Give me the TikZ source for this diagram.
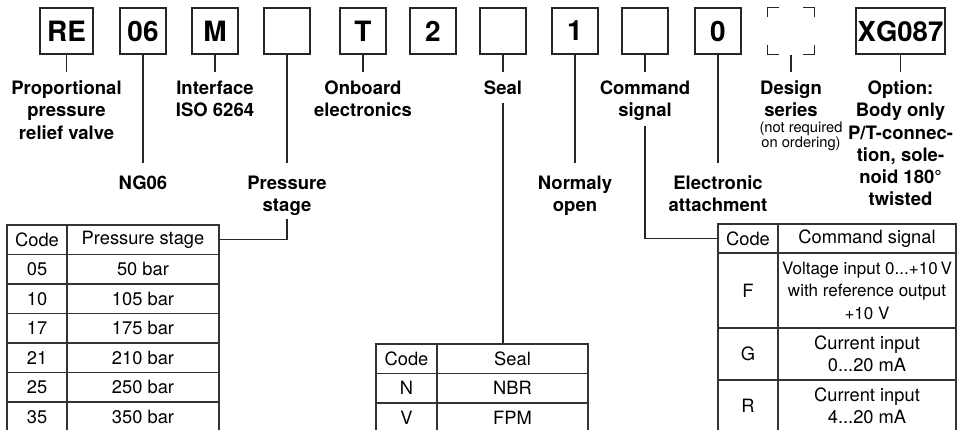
\documentclass[tikz,border=0pt]{standalone}
\usepackage{fontspec}
\setmainfont{TeX Gyre Heros}
\begin{document}
\begin{tikzpicture}[x=1pt,y=-1pt,
  codebox/.style={draw=black!85, line width=1.3pt, minimum width=46pt, minimum height=46pt, inner sep=0pt, font=\bfseries\fontsize{28}{28}\selectfont},
  lbl/.style={align=center, inner xsep=0pt, inner ysep=8.5pt, anchor=north, font=\bfseries\fontsize{18.5}{22.3}\selectfont},
  lbllow/.style={lbl, inner ysep=12.5pt},
  small/.style={align=center, inner sep=0pt, anchor=north, font=\fontsize{14.7}{15}\selectfont},
  conn/.style={draw=black!85, line width=1.2pt},
  cell/.style={draw=black!80, line width=1.2pt, inner sep=0pt, align=center, font=\fontsize{18.3}{22.5}\selectfont}
]
\useasboundingbox (0,0) rectangle (957,429);

% code boxes
\node[codebox, minimum width=53pt] (bRE) at (66.5,31) {RE};
\node[codebox] (b06) at (143,31) {06};
\node[codebox] (bM) at (215,31) {M};
\node[codebox] (bPS) at (287,31) {};
\node[codebox] (bT) at (363,31) {T};
\node[codebox] (b2) at (433,31) {2};
\node[codebox] (bSeal) at (503,31) {};
\node[codebox] (b1) at (575,31) {1};
\node[codebox] (bCmd) at (645,31) {};
\node[codebox] (b0) at (718,31) {0};
\node[codebox, draw=none] (bDS) at (791,31) {};
\node[codebox, minimum width=89pt, font=\bfseries\fontsize{27.5}{27.5}\selectfont] (bXG) at (900.5,31) {XG087};

% dashed-corner box
\draw[conn] ([yshift=-10pt]bDS.north west) -- (bDS.north west) -- ([xshift=12pt]bDS.north west);
\draw[conn] ([yshift=-10pt]bDS.north east) -- (bDS.north east) -- ([xshift=-12pt]bDS.north east);
\draw[conn] ([yshift=10pt]bDS.south west) -- (bDS.south west) -- ([xshift=12pt]bDS.south west);
\draw[conn] ([yshift=10pt]bDS.south east) -- (bDS.south east) -- ([xshift=-12pt]bDS.south east);

% labels
\node[lbl] (lRE) at (66.5,72) {Proportional\\pressure\\relief valve};
\node[lbllow] (l06) at (143,163) {NG06};
\node[lbl] (lM) at (215,72) {Interface\\ISO 6264};
\node[lbllow] (lPS) at (287,163) {Pressure\\stage};
\node[lbl] (lT) at (363,72) {Onboard\\electronics};
\node[lbl] (lSeal) at (503,72) {Seal};
\node[lbllow] (l1) at (575,163) {Normaly\\open};
\node[lbl] (lCmd) at (645,72) {Command\\signal};
\node[lbllow] (l0) at (718,163) {Electronic\\attachment};
\node[lbl] (lDS) at (791,72) {Design\\series};
\node[small] (lDSs) at (801,121.5) {(not required\\on ordering)};
\node[lbl] (lXG) at (900.5,72) {Option:\\Body only\\P/T-connec-\\tion, sole-\\noid 180°\\twisted};

% connectors box -> label
\draw[conn] (bRE.south) -- (lRE.north);
\draw[conn] (b06.south) -- (l06.north);
\draw[conn] (bM.south) -- (lM.north);
\draw[conn] (bPS.south) -- (lPS.north);
\draw[conn] (bT.south) -- (lT.north);
\draw[conn] (bSeal.south) -- (lSeal.north);
\draw[conn] (b1.south) -- (l1.north);
\draw[conn] (bCmd.south) -- (lCmd.north);
\draw[conn] (b0.south) -- (l0.north);
\draw[conn] (bDS.south) -- (lDS.north);
\draw[conn] (bXG.south) -- (lXG.north);

% pressure stage table
\node[cell, minimum width=60pt, minimum height=29.5pt] (p0a) at (37,239.75) {Code};
\node[cell, minimum width=152pt, minimum height=29.5pt] (p0b) at (143,239.75) {Pressure stage};
\foreach \i/\c/\v in {1/05/50 bar,2/10/105 bar,3/17/175 bar,4/21/210 bar,5/25/250 bar,6/35/350 bar}{
  \node[cell, minimum width=60pt, minimum height=29.5pt] (p\i a) at (37,239.75+29.5*\i) {\c};
  \node[cell, minimum width=152pt, minimum height=29.5pt] (p\i b) at (143,239.75+29.5*\i) {\v};
}

% seal table
\node[cell, minimum width=61pt, minimum height=29.5pt] (s0a) at (406.5,358.75) {Code};
\node[cell, minimum width=151pt, minimum height=29.5pt] (s0b) at (512.5,358.75) {Seal};
\node[cell, minimum width=61pt, minimum height=29.5pt] (s1a) at (406.5,388.25) {N};
\node[cell, minimum width=151pt, minimum height=29.5pt] (s1b) at (512.5,388.25) {NBR};
\node[cell, minimum width=61pt, minimum height=29.5pt] (s2a) at (406.5,417.75) {V};
\node[cell, minimum width=151pt, minimum height=29.5pt] (s2b) at (512.5,417.75) {FPM};

% command signal table
\node[cell, minimum width=60pt, minimum height=29pt] (c0a) at (748,238.5) {Code};
\node[cell, minimum width=178pt, minimum height=29pt] (c0b) at (867,238.5) {Command signal};
\node[cell, minimum width=60pt, minimum height=75pt] (c1a) at (748,290.5) {F};
\node[cell, minimum width=178pt, minimum height=75pt, font=\fontsize{17}{22.5}\selectfont] (c1b) at (867,290.5) {Voltage input 0...+10\,V\\with reference output\\+10 V};
\node[cell, minimum width=60pt, minimum height=52pt] (c2a) at (748,354) {G};
\node[cell, minimum width=178pt, minimum height=52pt] (c2b) at (867,354) {Current input\\0...20 mA};
\node[cell, minimum width=60pt, minimum height=52pt] (c3a) at (748,406) {R};
\node[cell, minimum width=178pt, minimum height=52pt] (c3b) at (867,406) {Current input\\4...20 mA};

% connectors label -> table
\draw[conn, shorten <=-9pt] (lPS.south) |- (p0b.east);
\draw[conn] (lSeal.south) -- (lSeal.south |- s0b.north);
\draw[conn, shorten <=-3pt] (lCmd.south) |- (c0a.west);
\end{tikzpicture}
\end{document}
